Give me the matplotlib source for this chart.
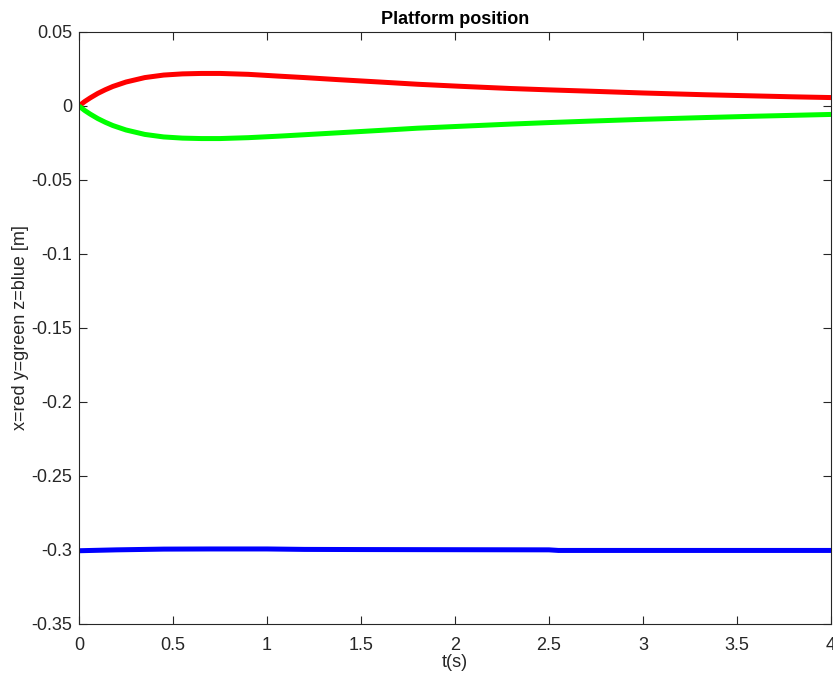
import numpy as np
import matplotlib
matplotlib.use("Agg")
import matplotlib.pyplot as plt

plt.rcParams['font.family'] = ['Liberation Sans', 'DejaVu Sans']

# Datos (t en segundos, posicion en metros)
t_x = [0, 0.03, 0.06, 0.1, 0.14, 0.18, 0.25, 0.35, 0.45, 0.55, 0.65, 0.75, 0.9, 1.06, 1.2, 1.38, 1.6, 1.8, 2.03, 2.3, 2.5, 2.72, 3.0, 3.33, 3.6, 3.8, 4.0]
pos_x = [0, 0.0030, 0.0055, 0.0085, 0.0110, 0.0132, 0.0162, 0.0192, 0.0209, 0.0217, 0.0220, 0.0220, 0.0214, 0.0202, 0.0192, 0.0178, 0.0162, 0.0147, 0.0133, 0.0118, 0.0109, 0.0100, 0.0088, 0.0076, 0.0068, 0.0062, 0.0057]

t_y = [0, 0.03, 0.06, 0.1, 0.14, 0.18, 0.25, 0.35, 0.45, 0.55, 0.65, 0.75, 0.9, 1.06, 1.2, 1.38, 1.6, 1.8, 2.03, 2.3, 2.5, 2.72, 3.0, 3.33, 3.6, 3.8, 4.0]
pos_y = [0, -0.0030, -0.0055, -0.0085, -0.0110, -0.0132, -0.0162, -0.0192, -0.0209, -0.0217, -0.0220, -0.0220, -0.0214, -0.0204, -0.0194, -0.0181, -0.0165, -0.0150, -0.0137, -0.0122, -0.0112, -0.0102, -0.0090, -0.0078, -0.0069, -0.0063, -0.0057]

t_z = [0, 0.2, 0.45, 0.7, 1.0, 1.2, 1.5, 2.0, 2.5, 2.55, 3.0, 3.5, 4.0]
pos_z = [-0.3005, -0.2999, -0.2994, -0.2993, -0.2993, -0.2996, -0.2997, -0.2998, -0.2999, -0.3003, -0.3003, -0.3003, -0.3003]

xticks = [0, 0.5, 1, 1.5, 2, 2.5, 3, 3.5, 4]
xticklabels = ['0', '0.5', '1', '1.5', '2', '2.5', '3', '3.5', '4']
yticks = [-0.35, -0.3, -0.25, -0.2, -0.15, -0.1, -0.05, 0, 0.05]
yticklabels = ['-0.35', '-0.3', '-0.25', '-0.2', '-0.15', '-0.1', '-0.05', '0', '0.05']

gris = '#262626'

fig = plt.figure(figsize=(8.33, 6.81), dpi=100)
ax = fig.add_axes([79/833, 1 - 624/681, (831 - 79)/833, (624 - 32)/681])

ax.plot(t_x, pos_x, color='#ff0000', lw=3.6, solid_capstyle='butt')
ax.plot(t_y, pos_y, color='#00ff00', lw=3.6, solid_capstyle='butt')
ax.plot(t_z, pos_z, color='#0000ff', lw=3.6, solid_capstyle='butt')

ax.set_xlim(0, 4)
ax.set_ylim(-0.35, 0.05)
ax.set_xticks(xticks)
ax.set_xticklabels(xticklabels)
ax.set_yticks(yticks)
ax.set_yticklabels(yticklabels)

ax.tick_params(direction='in', length=6, width=0.8, colors=gris, labelsize=13,
               top=True, right=True)
ax.tick_params(axis='x', pad=9)
ax.tick_params(axis='y', pad=5)
for s in ax.spines.values():
    s.set_color(gris)
    s.set_linewidth(0.8)

ax.set_xlabel('t(s)', fontsize=13, color=gris, labelpad=0.5)
ax.set_ylabel('x=red y=green z=blue [m]', fontsize=13, color=gris, labelpad=1.5)
ax.set_title('Platform position', fontsize=13, fontweight='bold', color='black', pad=5.5)

fig.savefig('out.png', dpi=100)
